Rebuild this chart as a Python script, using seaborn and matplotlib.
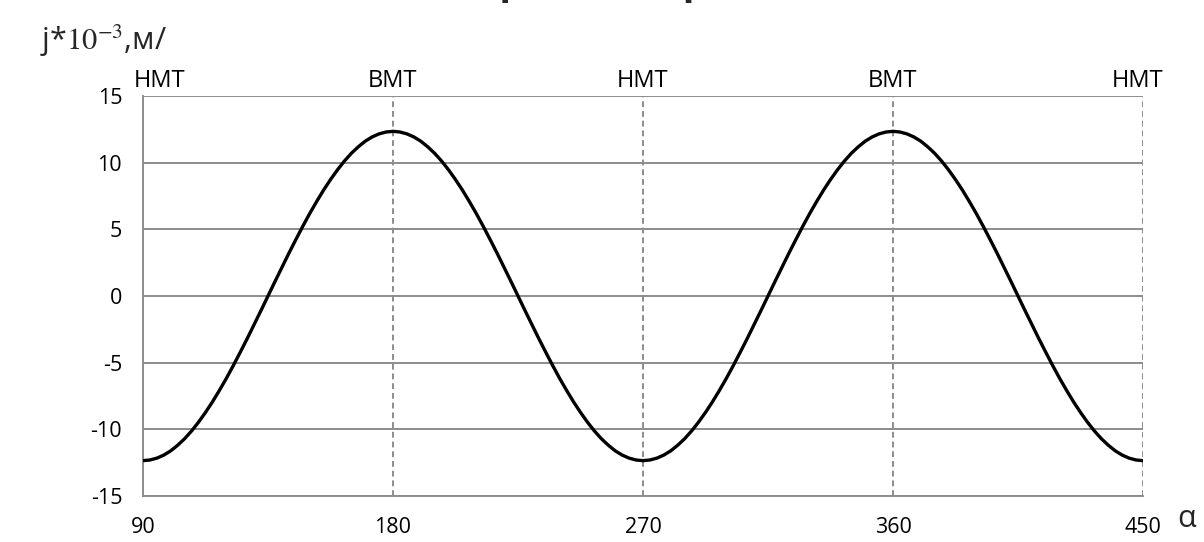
import matplotlib
matplotlib.use("Agg")
import matplotlib.pyplot as plt
import seaborn as sns
import pandas as pd

# angle (deg) and acceleration j*10^-3, read every 2.5 deg
alpha = [90 + 2.5 * i for i in range(145)]
half_up = [-12.35, -12.30, -12.16, -11.93, -11.61, -11.19, -10.70, -10.12, -9.46,
           -8.73, -7.94, -7.08, -6.18, -5.22, -4.22, -3.20, -2.14, -1.08, 0.0,
           1.08, 2.14, 3.20, 4.22, 5.22, 6.18, 7.08, 7.94, 8.73, 9.46,
           10.12, 10.70, 11.19, 11.61, 11.93, 12.16, 12.30]
half_down = [12.35, 12.30, 12.16, 11.93, 11.61, 11.19, 10.70, 10.12, 9.46,
             8.73, 7.94, 7.08, 6.18, 5.22, 4.22, 3.20, 2.14, 1.08, 0.0,
             -1.08, -2.14, -3.20, -4.22, -5.22, -6.18, -7.08, -7.94, -8.73, -9.46,
             -10.12, -10.70, -11.19, -11.61, -11.93, -12.16, -12.30]
j_vals = half_up + half_down + half_up + half_down + [-12.35]

x_ticks = [90, 180, 270, 360, 450]
y_ticks = [-15, -10, -5, 0, 5, 10, 15]
dead_points = ["НМТ", "ВМТ", "НМТ", "ВМТ", "НМТ"]
title_text = "Ускорение поршня"
ylabel_text = "j*$10^{-3}$,м/"
xlabel_text = "α"

df = pd.DataFrame({"alpha": alpha, "j": j_vals})

sns.set_style("white")
plt.rcParams["font.family"] = ["Open Sans", "DejaVu Sans"]
plt.rcParams["mathtext.fontset"] = "stix"

fig = plt.figure(figsize=(12.04, 5.42), dpi=100)
ax = fig.add_axes([143 / 1204, 1 - 496 / 542, 1000 / 1204, 400 / 542])

grid_c = "#8c8c8c"
for y in y_ticks:
    ax.axhline(y, color=grid_c, lw=1.4, zorder=1)
for x in x_ticks[1:]:
    ax.axvline(x, color=grid_c, lw=1.4, ls=(0, (3, 2)), zorder=1)

sns.lineplot(data=df, x="alpha", y="j", ax=ax, color="black", lw=2.4, zorder=3)

ax.set_xlim(90, 450)
ax.set_ylim(-15, 15)
ax.set_xticks(x_ticks)
ax.set_yticks(y_ticks)
ax.set_xticklabels([str(v) for v in x_ticks])
ax.set_yticklabels([str(v) for v in y_ticks])
ax.set_xlabel("")
ax.set_ylabel("")
for s in ["top", "right"]:
    ax.spines[s].set_visible(False)
ax.spines["left"].set_color(grid_c)
ax.spines["left"].set_linewidth(1.4)
ax.spines["bottom"].set_color(grid_c)
ax.spines["bottom"].set_linewidth(1.4)
ax.tick_params(axis="both", which="both", direction="out", length=7, width=1.4,
               color=grid_c, labelsize=15.5, labelcolor="black")
ax.tick_params(axis="x", pad=8)
ax.tick_params(axis="y", pad=8)

# markers of dead points above the plot
offsets = [12, 0, 0, 0, -4]
for x, lab, off in zip(x_ticks, dead_points, offsets):
    ax.annotate(lab, xy=(x, 1), xycoords=ax.get_xaxis_transform(),
                xytext=(off, 2), textcoords="offset points",
                ha="center", va="bottom", fontsize=17, color="black")

fig.text(40 / 1204, 1 - 50 / 542, ylabel_text, ha="left", va="baseline", fontsize=22)
fig.text(1187 / 1204, 1 - 527 / 542, xlabel_text, ha="center", va="baseline", fontsize=22)
fig.text(600 / 1204, 1 + 6 / 542, title_text, ha="center", va="baseline",
         fontsize=28, fontweight="bold")

fig.savefig("out.png", dpi=100)
